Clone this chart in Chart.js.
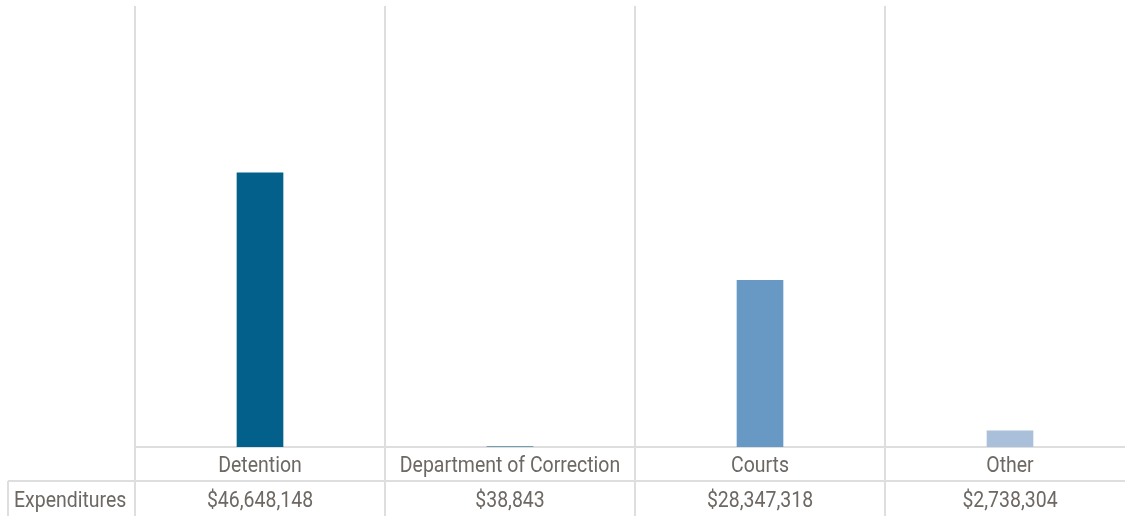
<!DOCTYPE html>
<html>
<head>
<meta charset="utf-8">
<script src="https://cdn.jsdelivr.net/npm/chart.js@4/dist/chart.umd.min.js"></script>
<style>
  html, body { margin: 0; padding: 0; background: #fff; overflow: hidden; }
  #wrap { width: 1135px; height: 516px; }
</style>
</head>
<body>
<div id="wrap"><canvas id="c"></canvas></div>
<script>
// data
var categories = ["Detention", "Department of Correction", "Courts", "Other"];
var expenditures = [46648148, 38843, 28347318, 2738304];
var rowLabel = "Expenditures";
var barColors = ["#02608b", "#02608b", "#6899c4", "#aabfd9"];

var gridColor = "#dedede";
var textColor = "#6d6863";

function money(v) {
  return "$" + v.toLocaleString("en-US");
}

// label row + value row under the plot, placed from the x scale
var tablePlugin = {
  id: "table",
  afterDraw: function (chart) {
    var ctx = chart.ctx,
      xs = chart.scales.x,
      area = chart.chartArea,
      half = (xs.getPixelForValue(1) - xs.getPixelForValue(0)) / 2,
      rowTop = area.bottom,
      midLine = rowTop + 34,
      bottom = chart.height;

    ctx.save();
    ctx.strokeStyle = gridColor;
    ctx.lineWidth = 2;
    ctx.beginPath();
    ctx.moveTo(8, midLine);
    ctx.lineTo(chart.width, midLine);
    ctx.moveTo(8, midLine);
    ctx.lineTo(8, bottom);
    for (var i = 0; i < categories.length; i++) {
      var x = xs.getPixelForValue(i) - half;
      ctx.moveTo(x, rowTop);
      ctx.lineTo(x, bottom);
    }
    ctx.stroke();

    ctx.fillStyle = textColor;
    ctx.font = '22px Roboto, "Liberation Sans", sans-serif';
    ctx.textBaseline = "middle";
    var sx = 0.885;

    function txt(s, x, y, align) {
      ctx.save();
      ctx.translate(x, y);
      ctx.scale(sx, 1);
      ctx.textAlign = align;
      ctx.fillText(s, 0, 0);
      ctx.restore();
    }

    categories.forEach(function (c, i) {
      var cx = xs.getPixelForValue(i);
      txt(c, cx, rowTop + 19, "center");
      txt(money(expenditures[i]), cx, midLine + 20, "center");
    });
    txt(rowLabel, 14, midLine + 20, "left");
    ctx.restore();
  },
};

new Chart(document.getElementById("c"), {
  type: "bar",
  data: {
    labels: categories,
    datasets: [
      {
        label: rowLabel,
        data: expenditures,
        backgroundColor: barColors,
        barThickness: 46,
      },
    ],
  },
  options: {
    responsive: true,
    maintainAspectRatio: false,
    animation: false,
    layout: { padding: { left: 135, top: 6, right: 0, bottom: 69 } },
    plugins: { legend: { display: false }, tooltip: { enabled: false } },
    scales: {
      x: {
        display: true,
        ticks: { display: false },
        grid: { offset: true, color: gridColor, lineWidth: 2, drawTicks: false },
        border: { display: true, color: gridColor, width: 2 },
      },
      y: { display: false, min: 0, max: 75000000 },
    },
  },
  plugins: [tablePlugin],
});
</script>
</body>
</html>
